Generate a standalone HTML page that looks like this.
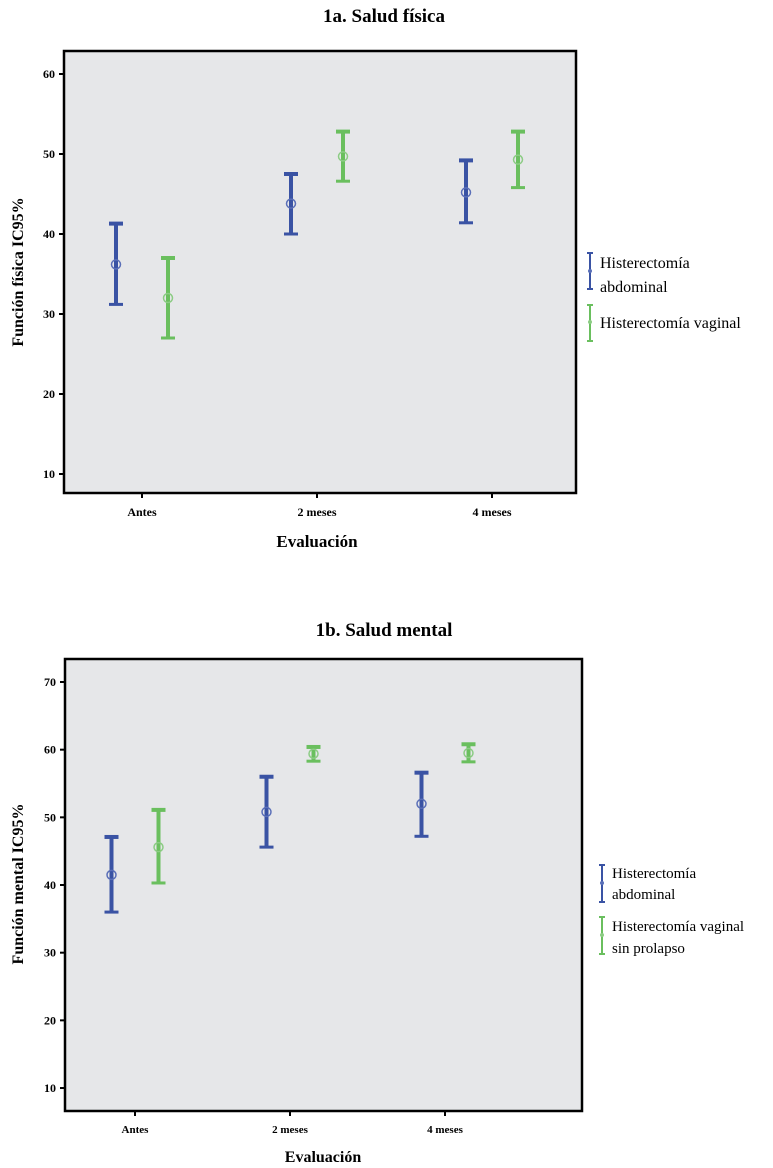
<!DOCTYPE html>
<html><head><meta charset="utf-8"><style>
body{margin:0;background:#fff;width:773px;height:1168px;overflow:hidden}
svg{display:block;font-family:"Liberation Serif",serif}
</style></head><body>
<svg id="s" width="773" height="1168">
<text x="384" y="22" text-anchor="middle" font-size="19" font-weight="bold">1a. Salud física</text>
<text x="384" y="636" text-anchor="middle" font-size="19" font-weight="bold">1b. Salud mental</text>
<text x="317" y="547" text-anchor="middle" font-size="17" font-weight="bold">Evaluación</text>
<text x="323" y="1162" text-anchor="middle" font-size="16" font-weight="bold">Evaluación</text>
<text transform="translate(23,272) rotate(-90)" text-anchor="middle" font-size="16" font-weight="bold">Función física IC95%</text>
<text transform="translate(23,884) rotate(-90)" text-anchor="middle" font-size="16" font-weight="bold">Función mental IC95%</text>
<g>
<g>
<line x1="590" y1="253" x2="590" y2="289" stroke="#3a53a4" stroke-width="2"/><line x1="587" y1="253" x2="593" y2="253" stroke="#3a53a4" stroke-width="2"/><line x1="587" y1="289" x2="593" y2="289" stroke="#3a53a4" stroke-width="2"/><circle cx="590" cy="271" r="2" fill="#5a6fb8"/>
<text x="600" y="268" font-size="16">Histerectomía</text><text x="600" y="292" font-size="16">abdominal</text></g>
<g>
<line x1="590" y1="305" x2="590" y2="341" stroke="#6abf5e" stroke-width="2"/><line x1="587" y1="305" x2="593" y2="305" stroke="#6abf5e" stroke-width="2"/><line x1="587" y1="341" x2="593" y2="341" stroke="#6abf5e" stroke-width="2"/><circle cx="590" cy="322" r="2" fill="#8ccc84"/>
<text x="600" y="328" font-size="16">Histerectomía vaginal</text></g>
</g>
<g>
<g>
<line x1="602" y1="865" x2="602" y2="902" stroke="#3a53a4" stroke-width="2"/><line x1="599" y1="865" x2="605" y2="865" stroke="#3a53a4" stroke-width="2"/><line x1="599" y1="902" x2="605" y2="902" stroke="#3a53a4" stroke-width="2"/><circle cx="602" cy="883" r="2" fill="#5a6fb8"/>
<text x="612" y="878" font-size="15">Histerectomía</text><text x="612" y="899" font-size="15">abdominal</text></g>
<g>
<line x1="602" y1="917" x2="602" y2="954" stroke="#6abf5e" stroke-width="2"/><line x1="599" y1="917" x2="605" y2="917" stroke="#6abf5e" stroke-width="2"/><line x1="599" y1="954" x2="605" y2="954" stroke="#6abf5e" stroke-width="2"/><circle cx="602" cy="935" r="2" fill="#8ccc84"/>
<text x="612" y="931" font-size="15">Histerectomía vaginal</text><text x="612" y="953" font-size="15">sin prolapso</text></g>
</g>
</svg>
<script>
const categories=["Antes","2 meses","4 meses"];
const yTicks1=[10,20,30,40,50,60];
const abdMean1=[36.2,43.8,45.2], abdLo1=[31.2,40.0,41.4], abdHi1=[41.3,47.5,49.2];
const vagMean1=[32.0,49.7,49.3], vagLo1=[27.0,46.6,45.8], vagHi1=[37.0,52.8,52.8];
const yTicks2=[10,20,30,40,50,60,70];
const abdMean2=[41.5,50.8,52.0], abdLo2=[36.0,45.6,47.2], abdHi2=[47.1,56.0,56.6];
const vagMean2=[45.6,59.4,59.5], vagLo2=[40.3,58.3,58.2], vagHi2=[51.1,60.4,60.8];

const NS="http://www.w3.org/2000/svg";
const svg=document.getElementById('s');
function mk(t,a,p){const e=document.createElementNS(NS,t);for(const k in a)e.setAttribute(k,a[k]);(p||svg).appendChild(e);return e;}

function chart(id,box,yv0,yp0,pxPerUnit,ticks,cx0,cstep,off,series,fs,labY){
  const g=mk('g',{});
  
  
  const y=v=>yp0+(yv0-v)*pxPerUnit;
  const x=i=>cx0+i*cstep;
  const bg=mk('rect',{x:box[0],y:box[1],width:box[2]-box[0],height:box[3]-box[1],fill:'#e6e7e9',stroke:'#000','stroke-width':2.5},g);
  
  
  ticks.forEach(t=>{
    const l=mk('line',{x1:box[0]-5,x2:box[0],y1:y(t),y2:y(t),stroke:'#000','stroke-width':2},g);
    
    
    const tx=mk('text',{x:box[0]-9,y:y(t)+4,'text-anchor':'end','font-size':12,'font-weight':'bold'},g);
    tx.textContent=t;
    
    
  });
  categories.forEach((c,i)=>{
    const l=mk('line',{x1:x(i),x2:x(i),y1:box[3],y2:box[3]+5,stroke:'#000','stroke-width':2},g);
    
    
    const tx=mk('text',{x:x(i),y:labY,'text-anchor':'middle','font-size':fs,'font-weight':'bold'},g);
    tx.textContent=c;
    
    
  });
  series.forEach((s,si)=>{
    categories.forEach((c,i)=>{
      const cx=x(i)+(si?off:-off);
      const eg=mk('g',{},g);
      
      
      mk('line',{x1:cx,x2:cx,y1:y(s.hi[i]),y2:y(s.lo[i]),stroke:s.col,'stroke-width':4},eg);
      mk('line',{x1:cx-7,x2:cx+7,y1:y(s.hi[i]),y2:y(s.hi[i]),stroke:s.col,'stroke-width':4},eg);
      mk('line',{x1:cx-7,x2:cx+7,y1:y(s.lo[i]),y2:y(s.lo[i]),stroke:s.col,'stroke-width':3},eg);
      mk('circle',{cx:cx,cy:y(s.m[i]),r:4.5,fill:'none',stroke:s.light,'stroke-width':1.5},eg);
    });
  });
}
chart('1a',[64,51,576,493],60,74,8,yTicks1,142,175,26,[
  {name:'abdominal',col:'#3a53a4',light:'#5a6fb8',m:abdMean1,lo:abdLo1,hi:abdHi1},
  {name:'vaginal',col:'#6abf5e',light:'#8ccc84',m:vagMean1,lo:vagLo1,hi:vagHi1}],12,516);
chart('1b',[65,659,582,1111],70,682,6.767,yTicks2,135,155,23.5,[
  {name:'abdominal',col:'#3a53a4',light:'#5a6fb8',m:abdMean2,lo:abdLo2,hi:abdHi2},
  {name:'vaginal',col:'#6abf5e',light:'#8ccc84',m:vagMean2,lo:vagLo2,hi:vagHi2}],11,1133);
</script>
</body></html>
